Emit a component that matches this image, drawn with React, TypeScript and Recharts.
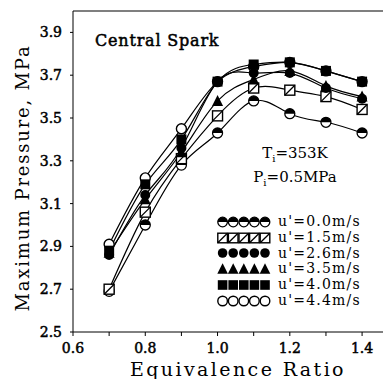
import React from "react"
import { LineChart, Line, XAxis, YAxis, ReferenceLine } from "recharts"

// equivalence ratio
const PHI = [0.7, 0.8, 0.9, 1.0, 1.1, 1.2, 1.3, 1.4]

// maximum pressure (MPa) per turbulence intensity u'
const U00 = [2.69, 3.0, 3.28, 3.43, 3.58, 3.52, 3.48, 3.43]
const U15 = [2.7, 3.06, 3.31, 3.51, 3.64, 3.63, 3.6, 3.54]
const U26 = [2.86, 3.14, 3.36, 3.67, 3.71, 3.71, 3.64, 3.59]
const U35 = [2.87, 3.12, 3.34, 3.58, 3.68, 3.72, 3.65, 3.6]
const U40 = [2.88, 3.19, 3.4, 3.67, 3.75, 3.76, 3.72, 3.67]
const U44 = [2.91, 3.22, 3.45, 3.67, 3.74, 3.76, 3.72, 3.67]

const X_TICKS = [0.6, 0.7, 0.8, 0.9, 1.0, 1.1, 1.2, 1.3, 1.4]
const Y_TICKS = [2.5, 2.7, 2.9, 3.1, 3.3, 3.5, 3.7, 3.9]

const LEGEND = [
    { key: "u00", kind: "half", label: "u'=0.0m/s" },
    { key: "u15", kind: "hatch", label: "u'=1.5m/s" },
    { key: "u26", kind: "fcircle", label: "u'=2.6m/s" },
    { key: "u35", kind: "tri", label: "u'=3.5m/s" },
    { key: "u40", kind: "fsquare", label: "u'=4.0m/s" },
    { key: "u44", kind: "ocircle", label: "u'=4.4m/s" },
]

// draw order: open circles underneath, filled squares on top
const DRAW_ORDER = ["u44", "u00", "u15", "u35", "u26", "u40"]

const data = PHI.map((phi, i) => ({
    phi,
    u00: U00[i],
    u15: U15[i],
    u26: U26[i],
    u35: U35[i],
    u40: U40[i],
    u44: U44[i],
}))

const FONT = "'DejaVu Serif', serif"

function Marker({ kind, cx, cy, r = 5 }: { kind: string; cx: number; cy: number; r?: number }) {
    switch (kind) {
        case "half":
            return (
                <g>
                    <circle cx={cx} cy={cy} r={r} fill="#fff" stroke="#000" strokeWidth={1.3} />
                    <path d={`M${cx - r},${cy} A${r},${r} 0 0 1 ${cx + r},${cy} Z`} fill="#000" />
                </g>
            )
        case "hatch":
            return (
                <g>
                    <rect x={cx - r} y={cy - r} width={2 * r} height={2 * r} fill="#fff" stroke="#000" strokeWidth={1.4} />
                    <line x1={cx - r} y1={cy + r} x2={cx + r} y2={cy - r} stroke="#000" strokeWidth={1.3} />
                </g>
            )
        case "fcircle":
            return <circle cx={cx} cy={cy} r={r} fill="#000" />
        case "tri":
            return <polygon points={`${cx},${cy - r - 1} ${cx + r + 0.5},${cy + r} ${cx - r - 0.5},${cy + r}`} fill="#000" />
        case "fsquare":
            return <rect x={cx - r} y={cy - r} width={2 * r} height={2 * r} fill="#000" />
        default:
            return <circle cx={cx} cy={cy} r={r} fill="#fff" stroke="#000" strokeWidth={1.4} />
    }
}

function XTick(props: any) {
    const { x, y, payload } = props
    const v = payload.value
    const major = Math.round(v * 10) % 2 === 0
    if (!major) return <g />
    return (
        <text x={x} y={y + 15} textAnchor="middle" fontFamily={FONT} fontSize={14} fill="#000" stroke="#000" strokeWidth={0.5}>
            {v.toFixed(1)}
        </text>
    )
}

function YTick(props: any) {
    const { x, y, payload } = props
    return (
        <text x={x - 6} y={y + 5} textAnchor="end" fontFamily={FONT} fontSize={14} fill="#000" stroke="#000" strokeWidth={0.5}>
            {payload.value.toFixed(1)}
        </text>
    )
}

export default function App() {
    return (
        <div style={{ position: "relative", width: 383, height: 371 }}>
            <LineChart width={383} height={371} data={data} margin={{ top: 3, right: 0, left: 0, bottom: 0 }}>
                <XAxis
                    dataKey="phi"
                    type="number"
                    domain={[0.6, 1.48]}
                    allowDataOverflow
                    ticks={X_TICKS}
                    tick={<XTick />}
                    tickSize={4}
                    height={47}
                    stroke="#000"
                />
                <YAxis
                    type="number"
                    domain={[2.5, 4.0]}
                    ticks={Y_TICKS}
                    tick={<YTick />}
                    tickSize={3}
                    width={65}
                    stroke="#000"
                />
                <ReferenceLine y={4.0} stroke="#000" strokeWidth={1.2} ifOverflow="visible" />
                {DRAW_ORDER.map(key => {
                    const kind = LEGEND.find(s => s.key === key)!.kind
                    return (
                        <Line
                            key={key}
                            dataKey={key}
                            type="natural"
                            stroke="#000"
                            strokeWidth={1.2}
                            isAnimationActive={false}
                            dot={(p: any) => <Marker key={`${key}-${p.index}`} kind={kind} cx={p.cx} cy={p.cy} />}
                        />
                    )
                })}
            </LineChart>
            <svg width={383} height={371} style={{ position: "absolute", left: 0, top: 0, pointerEvents: "none" }}>
                <text
                    x={14}
                    y={170}
                    transform="rotate(-90, 14, 170)"
                    textAnchor="middle"
                    dominantBaseline="central"
                    fontFamily={FONT}
                    fontSize={18}
                    letterSpacing={1.8}
                    fill="#000"
                >
                    Maximum Pressure, MPa
                </text>
                <text x={230} y={368} textAnchor="middle" fontFamily={FONT} fontSize={19} letterSpacing={2.4} fill="#000">
                    Equivalence Ratio
                </text>
                <text x={87} y={38} fontFamily={FONT} fontSize={16} letterSpacing={0.8} fill="#000" stroke="#000" strokeWidth={0.5}>
                    Central Spark
                </text>
            </svg>
            <div style={{ position: "absolute", left: 237, top: 136, width: 100, textAlign: "center", fontFamily: FONT, fontSize: 15, lineHeight: "18px" }}>
                <div>T<sub style={{ fontSize: 10 }}>i</sub>=353K</div>
                <div>P<sub style={{ fontSize: 10 }}>i</sub>=0.5MPa</div>
            </div>
            <div style={{ position: "absolute", left: 209, top: 206 }}>
                {LEGEND.map(s => (
                    <div key={s.key} style={{ display: "flex", alignItems: "center", height: 15.8, lineHeight: "15.8px" }}>
                        <svg width={55} height={12}>
                            {[0, 1, 2, 3, 4].map(j => (
                                <Marker key={j} kind={s.kind} cx={5.6 + j * 10.6} cy={6} r={4.8} />
                            ))}
                        </svg>
                        <span style={{ marginLeft: 6, fontFamily: FONT, fontSize: 14, letterSpacing: 1.2 }}>{s.label}</span>
                    </div>
                ))}
            </div>
        </div>
    )
}
